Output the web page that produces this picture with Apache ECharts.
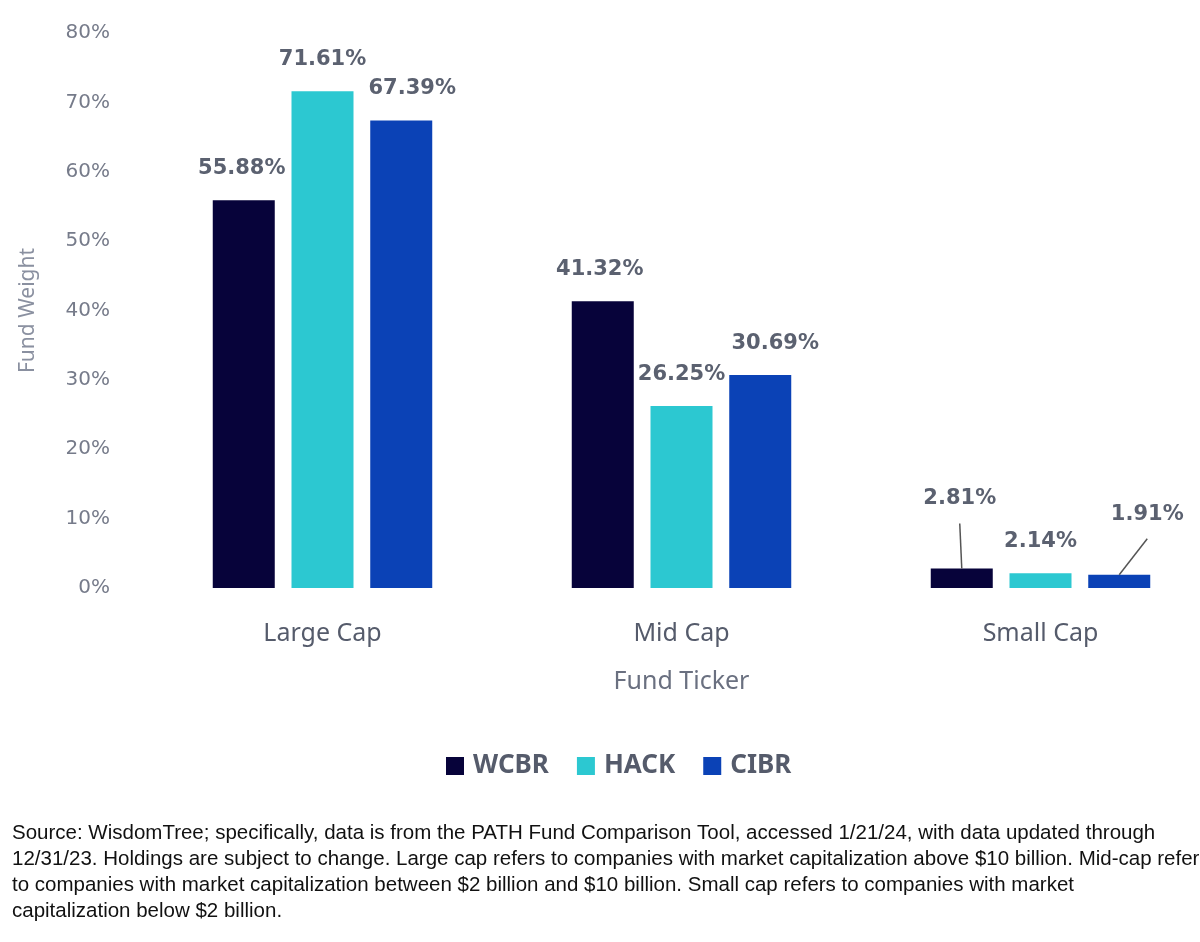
<!DOCTYPE html>
<html>
<head>
<meta charset="utf-8">
<script src="https://cdn.jsdelivr.net/npm/echarts@6/dist/echarts.min.js"></script>
<style>
  html, body { margin: 0; padding: 0; background: #fff; overflow: hidden; }
  /* plot runs off the right edge in the original, so the canvas is a bit wider than the page */
  #chart { width: 1220px; height: 942px; }
</style>
</head>
<body>
<div id="chart"></div>
<script>
const categories = ['Large Cap', 'Mid Cap', 'Small Cap'];
const funds = ['WCBR', 'HACK', 'CIBR'];
const wcbr = [55.88, 41.32, 2.81];
const hack = [71.61, 26.25, 2.14];
const cibr = [67.39, 30.69, 1.91];
const colors = ['#07033a', '#2cc8d1', '#0b42b6'];
const yTicks = [0, 10, 20, 30, 40, 50, 60, 70, 80];

const footnote = [
  'Source: WisdomTree; specifically, data is from the PATH Fund Comparison Tool, accessed 1/21/24, with data updated through',
  '12/31/23. Holdings are subject to change. Large cap refers to companies with market capitalization above $10 billion. Mid-cap refers',
  'to companies with market capitalization between $2 billion and $10 billion. Small cap refers to companies with market',
  'capitalization below $2 billion.'
];

const LABEL_DIST = 21;

// moved labels (the small cap ones get a leader line like the original)
const labelShift = {
  'WCBR': [[-2, 0], [-3, 0], [-2, -38]],
  'HACK': [[0, 0], [0, 0], [0, 0]],
  'CIBR': [[11, 0], [15, 0], [28, -29]]
};
const leaderLine = {
  'WCBR': [false, false, true],
  'HACK': [false, false, false],
  'CIBR': [false, false, true]
};

const chart = echarts.init(document.getElementById('chart'));

const series = [wcbr, hack, cibr].map((vals, i) => ({
  name: funds[i],
  type: 'bar',
  barWidth: 62,
  barGap: '27%',
  itemStyle: { color: colors[i] },
  data: vals,
  label: {
    show: true,
    position: 'top',
    distance: LABEL_DIST,
    formatter: p => p.value.toFixed(2) + '%',
    fontFamily: 'DejaVu Sans',
    fontWeight: 'bold',
    fontSize: 21,
    color: '#5b6170'
  },
  labelLayout: p => {
    const s = labelShift[funds[i]][p.dataIndex];
    return { dx: s[0], dy: s[1] };
  }
}));

chart.setOption({
  animation: false,
  color: colors,
  grid: { left: 143, top: 33, bottom: 354, right: 0 },
  legend: {
    data: funds,
    bottom: 158,
    left: 441,
    icon: 'rect',
    itemWidth: 18,
    itemHeight: 18,
    itemGap: 28,
    textStyle: { fontFamily: 'Noto Sans', fontWeight: 'bold', fontSize: 26, color: '#555b6b', padding: [0, 0, 0, 4] }
  },
  xAxis: {
    type: 'category',
    data: categories,
    name: 'Fund Ticker',
    nameLocation: 'middle',
    nameGap: 81,
    nameTextStyle: { fontFamily: 'Noto Sans', fontSize: 25, color: '#6a7080' },
    axisLine: { show: false },
    axisTick: { show: false },
    axisLabel: { margin: 33, fontFamily: 'Noto Sans', fontSize: 25, color: '#555b6b' }
  },
  yAxis: {
    type: 'value',
    min: yTicks[0],
    max: yTicks[yTicks.length - 1],
    interval: 10,
    name: 'Fund Weight',
    nameLocation: 'middle',
    nameGap: 104,
    nameTextStyle: { fontFamily: 'Noto Sans', fontSize: 21, color: '#8a90a0' },
    splitLine: { show: false },
    axisLine: { show: false },
    axisTick: { show: false },
    axisLabel: { margin: 33, formatter: '{value}%', fontFamily: 'DejaVu Sans', fontSize: 20, color: '#767b8a' }
  },
  graphic: [{
    id: 'footnote',
    type: 'text',
    left: 12,
    top: 820,
    style: {
      text: footnote.join('\n'),
      font: '20.5px "Liberation Sans"',
      lineHeight: 26,
      fill: '#111'
    }
  }],
  series: series
});

// leader lines: from the top of the bar (as laid out by echarts) to just under the moved label
const leaders = [];
funds.forEach((f, i) => {
  const data = chart.getModel().getSeriesByIndex(i).getData();
  leaderLine[f].forEach((on, j) => {
    if (!on) return;
    const lay = data.getItemLayout(j);
    const x0 = lay.x + lay.width / 2;
    const yTop = Math.min(lay.y, lay.y + lay.height);
    const s = labelShift[f][j];
    const x1 = x0 + s[0];
    const y1 = yTop - LABEL_DIST + s[1] + 14;
    leaders.push({
      type: 'line',
      shape: { x1: x0, y1: yTop, x2: x1, y2: y1 },
      style: { stroke: '#555', lineWidth: 1.5 },
      z: 10
    });
  });
});
chart.setOption({ graphic: leaders.map((l, k) => Object.assign({ id: 'leader' + k }, l)) });
</script>
</body>
</html>
